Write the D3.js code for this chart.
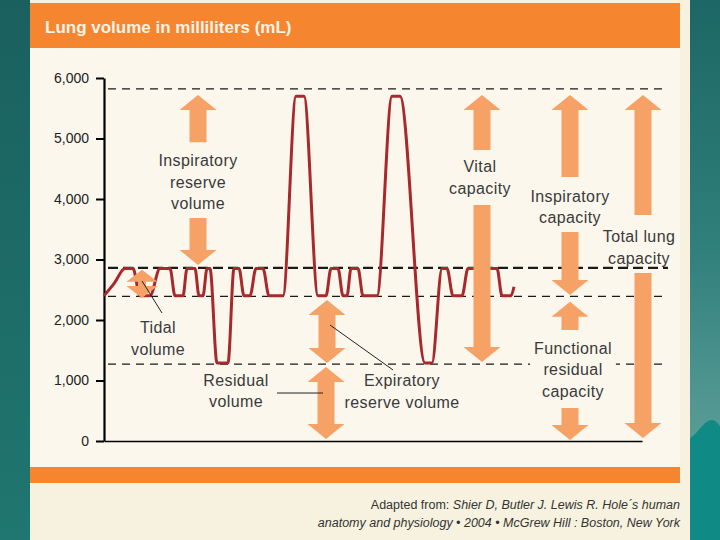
<!DOCTYPE html>
<html>
<head>
<meta charset="utf-8">
<script src="https://cdn.jsdelivr.net/npm/d3@7"></script>
<style>
  body { margin: 0; background: #1c6866; }
  svg { display: block; }
  text { font-family: "Liberation Sans", Arial, sans-serif; }
</style>
</head>
<body>
<svg id="chart" width="720" height="540"></svg>
<script>
// Spirogram: lung volumes and capacities

// breathing trace, time in s and volume in mL
const times = [0, 1.0, 2.1, 2.9, 3.6, 4.6, 5.6, 6.6, 7.1, 7.9, 8.3, 9.1, 9.5, 9.9, 10.3, 10.6,
  11.3, 12.4, 13.0, 13.5, 14.0, 14.6, 15.2, 15.9, 16.5, 17.9, 19.2, 20.0, 21.4, 22.2, 22.7, 23.4,
  23.9, 24.3, 24.7, 25.4, 25.9, 27.3, 28.8, 29.6, 32.1, 32.8, 33.8, 34.3, 34.9, 35.8, 36.4, 39.3,
  39.8, 40.7, 41.0];
const volumes = [2400, 2600, 2850, 2850, 2400, 2400, 2850, 2850, 2400, 2400, 2850, 2850, 2400, 2400, 2850, 2850,
  1290, 1290, 2850, 2850, 2400, 2400, 2850, 2850, 2400, 2400, 5700, 5700, 2400, 2400, 2850, 2850,
  2400, 2400, 2850, 2850, 2400, 2400, 5700, 5700, 1290, 1290, 2850, 2850, 2400, 2400, 2850, 2850,
  2400, 2400, 2550];

// dashed reference levels (mL)
const levelValues = [5820, 2860, 2390, 1270];

const yTicks = [0, 1000, 2000, 3000, 4000, 5000, 6000];

// volumes and capacities shown as arrows
const measureLines = [["Inspiratory", "reserve", "volume"], ["Tidal", "volume"], ["Vital", "capacity"],
  ["Expiratory", "reserve volume"], ["Residual", "volume"], ["Inspiratory", "capacity"],
  ["Functional", "residual", "capacity"], ["Total lung", "capacity"]];
const measureTimes = [9.4, 3.8, 37.8, 22.3, 22.2, 46.6, 46.6, 53.9];
const measureTops = [5720, 2830, 5720, 2330, 1225, 5720, 2300, 5720];
const measureBottoms = [2910, 2365, 1305, 1290, 35, 2415, 15, 50];
const gapTops = [4940, null, 4810, null, null, 4365, 1835, 3735];
const gapBottoms = [3685, null, 3900, null, null, 3455, 545, 2775];
const labelTimes = [9.4, 5.4, 37.6, 29.8, 13.2, 46.6, 46.9, 53.5];
const labelValues = [4280, 1700, 4355, 818, 826, 3868, 1182, 3200];
const leaderStarts = [null, [3.8, 2645], null, [22.6, 1917], [21.9, 793], null, null, null];
const leaderEnds = [null, [5.8, 2116], null, [28.9, 1174], [17.3, 793], null, null, null];

const svg = d3.select("#chart");
const W = 720, H = 540;

const x = d3.scaleLinear().domain([0, 53.8]).range([104, 642]);
const y = d3.scaleLinear().domain([0, 6000]).range([441, 78]);

// page background
const defs = svg.append("defs");
const gl = defs.append("linearGradient").attr("id", "tealLeft")
  .attr("x1", 0).attr("y1", 0).attr("x2", 0).attr("y2", 1);
gl.append("stop").attr("offset", "0%").attr("stop-color", "#1a605e");
gl.append("stop").attr("offset", "100%").attr("stop-color", "#207670");
const gr = defs.append("linearGradient").attr("id", "tealRight")
  .attr("x1", 0).attr("y1", 0).attr("x2", 0).attr("y2", 1);
gr.append("stop").attr("offset", "0%").attr("stop-color", "#1c6765");
gr.append("stop").attr("offset", "45%").attr("stop-color", "#2f7f7b");
gr.append("stop").attr("offset", "80%").attr("stop-color", "#589b95");

svg.append("rect").attr("width", W).attr("height", H).attr("fill", "url(#tealLeft)");
svg.append("rect").attr("x", 690).attr("width", 30).attr("height", H).attr("fill", "url(#tealRight)");
svg.append("path")
  .attr("d", "M690,438 C698,434 704,420 712,420 C716,420 718,424 720,426 L720,540 L690,540 Z")
  .attr("fill", "#0f8a85");

svg.append("rect").attr("x", 30).attr("width", 660).attr("height", H).attr("fill", "#f6f2df");
svg.append("rect").attr("x", 30).attr("y", 48).attr("width", 650).attr("height", 419).attr("fill", "#fbf7ed");
svg.append("rect").attr("x", 30).attr("y", 3).attr("width", 650).attr("height", 45).attr("fill", "#f5852f");
svg.append("rect").attr("x", 30).attr("y", 467).attr("width", 650).attr("height", 16).attr("fill", "#f5852f");

svg.append("text")
  .attr("x", 45).attr("y", 33)
  .attr("font-size", "17px").attr("font-weight", "bold")
  .attr("fill", "#fdf3e6")
  .text("Lung volume in milliliters (mL)");

// dashed levels
svg.selectAll("line.level")
  .data(levelValues)
  .enter()
  .append("line")
  .attr("class", "level")
  .attr("x1", x(0) + 4).attr("x2", 668)
  .attr("y1", d => y(d)).attr("y2", d => y(d))
  .attr("stroke", "#1a1a1a")
  .attr("stroke-width", (d, i) => i === 1 ? 2.2 : 1.2)
  .attr("stroke-dasharray", (d, i) => i === 1 ? "10,5" : "8,6");

// axes
const yAxis = svg.append("g")
  .attr("transform", `translate(${x(0)},0)`)
  .call(d3.axisLeft(y).tickValues(yTicks).tickFormat(d3.format(","))
    .tickSize(8).tickSizeOuter(0).tickPadding(7));
yAxis.select(".domain").attr("stroke", "#000").attr("stroke-width", 2.2);
yAxis.selectAll(".tick line").attr("stroke", "#000").attr("stroke-width", 2);
yAxis.selectAll(".tick text")
  .attr("font-family", "'DejaVu Sans', sans-serif")
  .attr("font-size", "14px")
  .attr("fill", "#222");

const xAxis = svg.append("g")
  .attr("transform", `translate(0,${y(0)})`)
  .call(d3.axisBottom(x).tickValues([]).tickSizeOuter(0));
xAxis.select(".domain").attr("stroke", "#000").attr("stroke-width", 1.5);

// breathing trace
const trace = d3.line()
  .x(d => x(d[0]))
  .y(d => y(d[1]))
  .curve(d3.curveMonotoneX);

svg.append("path")
  .datum(d3.zip(times, volumes))
  .attr("d", trace)
  .attr("fill", "none")
  .attr("stroke", "#a8282c")
  .attr("stroke-width", 3)
  .attr("stroke-linejoin", "round");

// arrow outline, optional head at either end
function arrowPath(cx, top, bottom, headUp, headDown, hw, sw, hh) {
  const pts = [];
  if (headUp) pts.push([cx, top], [cx + hw, top + hh], [cx + sw, top + hh]);
  else pts.push([cx + sw, top]);
  if (headDown) pts.push([cx + sw, bottom - hh], [cx + hw, bottom - hh], [cx, bottom],
    [cx - hw, bottom - hh], [cx - sw, bottom - hh]);
  else pts.push([cx + sw, bottom], [cx - sw, bottom]);
  if (headUp) pts.push([cx - sw, top + hh], [cx - hw, top + hh]);
  else pts.push([cx - sw, top]);
  return d3.line()(pts) + "Z";
}

const arrowColor = "#f6a267";
const fontSize = 16, lineGap = 21.5;

measureLines.forEach((lines, i) => {
  const cx = x(measureTimes[i]);
  const top = y(measureTops[i]), bottom = y(measureBottoms[i]);
  const small = bottom - top < 40;
  const hw = small ? 15.5 : 18.5, sw = small ? 4 : 8.5, hh = small ? 12 : 15;

  // label first, with a backing patch where a level line runs through it
  const lx = x(labelTimes[i]), ly = y(labelValues[i]);
  const firstY = ly - (lines.length - 1) * lineGap / 2;
  const lastY = ly + (lines.length - 1) * lineGap / 2;
  const label = svg.append("text")
    .attr("text-anchor", "middle")
    .attr("font-size", fontSize + "px")
    .attr("letter-spacing", "0.4px")
    .attr("fill", "#3a3a3a");
  lines.forEach((t, k) => {
    label.append("tspan")
      .attr("x", lx)
      .attr("y", firstY + k * lineGap + fontSize * 0.35)
      .text(t);
  });
  if (levelValues.some(v => y(v) > firstY && y(v) < lastY)) {
    const bb = label.node().getBBox();
    svg.insert("rect", () => label.node())
      .attr("x", bb.x - 4).attr("y", bb.y - 2)
      .attr("width", bb.width + 8).attr("height", bb.height + 4)
      .attr("fill", "#fbf7ed");
  }

  if (gapTops[i] === null) {
    svg.append("path")
      .attr("d", arrowPath(cx, top, bottom, true, true, hw, sw, hh))
      .attr("fill", arrowColor);
  } else {
    svg.append("path")
      .attr("d", arrowPath(cx, top, y(gapTops[i]), true, false, hw, sw, hh))
      .attr("fill", arrowColor);
    svg.append("path")
      .attr("d", arrowPath(cx, y(gapBottoms[i]), bottom, false, true, hw, sw, hh))
      .attr("fill", arrowColor);
  }

  if (leaderStarts[i]) {
    svg.append("line")
      .attr("x1", x(leaderStarts[i][0])).attr("y1", y(leaderStarts[i][1]))
      .attr("x2", x(leaderEnds[i][0])).attr("y2", y(leaderEnds[i][1]))
      .attr("stroke", "#222")
      .attr("stroke-width", 1);
  }
});

// source note
const note = svg.append("g")
  .attr("font-size", "12.5px")
  .attr("fill", "#333")
  .attr("text-anchor", "end");
const note1 = note.append("text").attr("x", 680).attr("y", 509);
note1.append("tspan").text("Adapted from: ");
note1.append("tspan").attr("font-style", "italic").text("Shier D, Butler J. Lewis R. Hole´s human");
note.append("text").attr("x", 680).attr("y", 527)
  .attr("font-style", "italic")
  .text("anatomy and physiology • 2004 • McGrew Hill : Boston, New York");
</script>
</body>
</html>
